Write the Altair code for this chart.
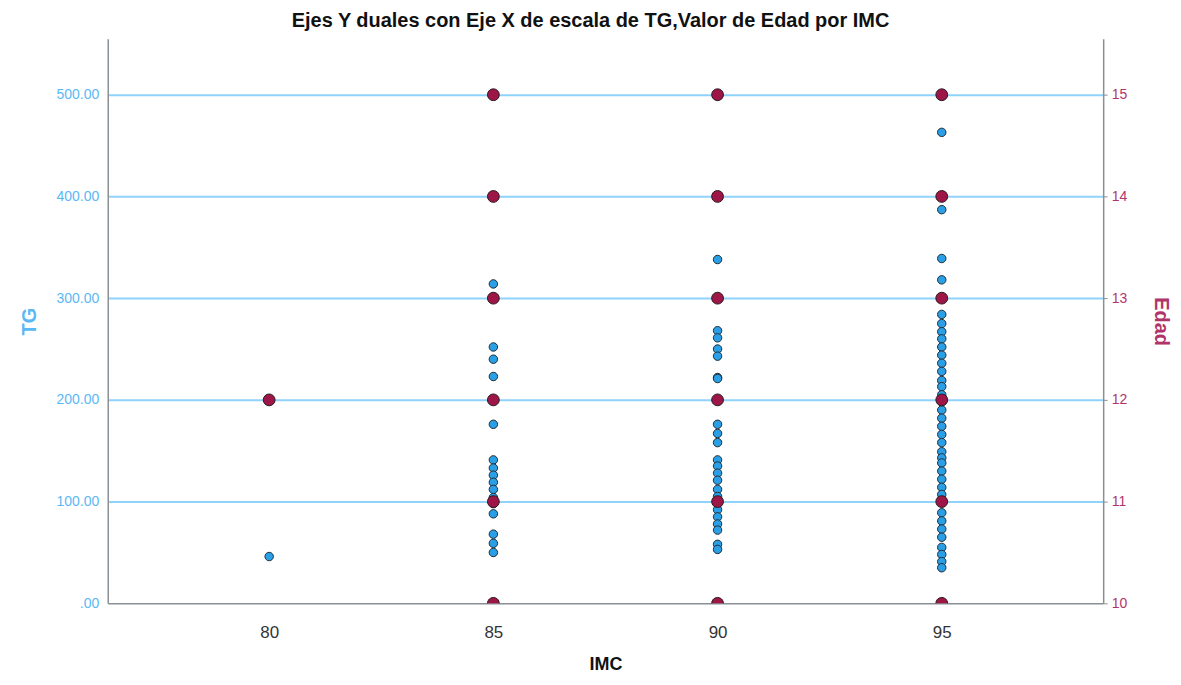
import altair as alt
import pandas as pd

# Blue series: TG values per IMC group
imc_levels = [80, 85, 90, 95]
tg_80 = [46]
tg_85 = [314, 252, 240, 223, 176, 141, 133, 126, 119, 112, 104, 98, 88, 68, 59, 50]
tg_90 = [338, 268, 261, 250, 243, 222, 221, 176, 167, 158, 141, 135, 128, 121, 112,
         105, 98, 92, 85, 78, 72, 58, 53]
tg_95 = [463, 387, 339, 318, 284, 275, 267, 260, 252, 244, 236, 228, 219, 213, 205,
         198, 190, 182, 174, 166, 158, 149, 143, 138, 130, 122, 114, 107, 100, 89,
         81, 73, 65, 55, 48, 41, 35]

# Red series: Edad values per IMC group
edad_80 = [12]
edad_85 = [10, 11, 12, 13, 14, 15]
edad_90 = [10, 11, 12, 13, 14, 15]
edad_95 = [10, 11, 12, 13, 14, 15]

tg_ticks = [0, 100, 200, 300, 400, 500]
edad_ticks = [10, 11, 12, 13, 14, 15]

tg_rows = []
for imc, vals in zip(imc_levels, [tg_80, tg_85, tg_90, tg_95]):
    tg_rows += [{"IMC": imc, "TG": v} for v in vals]
edad_rows = []
for imc, vals in zip(imc_levels, [edad_80, edad_85, edad_90, edad_95]):
    edad_rows += [{"IMC": imc, "Edad": v} for v in vals]

df_tg = pd.DataFrame(tg_rows)
df_edad = pd.DataFrame(edad_rows)

FONT = "Liberation Sans"
BLUE_LBL = "#5ab8f5"
RED_LBL = "#b0346a"

x_enc = alt.X(
    "IMC:Q",
    scale=alt.Scale(domain=[76.4, 98.6], nice=False, zero=False),
    axis=alt.Axis(
        values=imc_levels, title="IMC", grid=False, ticks=False,
        labelFontSize=17, labelColor="#333333", labelFont=FONT, labelPadding=21,
        titleFontSize=18, titleFontWeight="bold", titleColor="#111111", titleFont=FONT,
        titlePadding=15, domainColor="#8a8f94", domainWidth=1.5,
    ),
)

blue = alt.Chart(df_tg).mark_circle(
    size=72, color="#2a9fe6", opacity=1, stroke="#1f2f3a", strokeWidth=1, clip=True
).encode(
    x=x_enc,
    y=alt.Y(
        "TG:Q",
        scale=alt.Scale(domain=[0, 555], nice=False),
        axis=alt.Axis(
            orient="left", values=tg_ticks, title="TG",
            labelExpr="datum.value == 0 ? '.00' : format(datum.value, '.2f')",
            labelColor=BLUE_LBL, labelFontSize=14, labelFont=FONT, labelPadding=9,
            ticks=False, domainColor="#8a8f94", domainWidth=1.5,
            grid=True, gridColor="#8fd3fb", gridWidth=2,
            gridOpacity={"condition": {"test": "datum.value === 0", "value": 0}, "value": 1},
            titleColor=BLUE_LBL, titleFontSize=20, titleFontWeight="bold", titleFont=FONT,
            titleAngle=-90, titleX=-78, titleY=283, titleAlign="center", titleBaseline="middle",
        ),
    ),
)

red = alt.Chart(df_edad).mark_circle(
    size=140, color="#9e1547", opacity=1, stroke="#2a1a1f", strokeWidth=1, clip=True
).encode(
    x=x_enc,
    y=alt.Y(
        "Edad:Q",
        scale=alt.Scale(domain=[10, 15.55], nice=False, zero=False),
        axis=alt.Axis(
            orient="right", values=edad_ticks, title="Edad", format="d",
            labelColor=RED_LBL, labelFontSize=14, labelFont=FONT, labelPadding=4,
            ticks=True, tickSize=4, tickColor="#8a8f94",
            domainColor="#8a8f94", domainWidth=1.5, grid=False,
            titleColor=RED_LBL, titleFontSize=20, titleFontWeight="bold", titleFont=FONT,
            titleAngle=90, titleX=57, titleY=283, titleAlign="center", titleBaseline="middle",
        ),
    ),
)

chart = (
    alt.layer(blue, red)
    .resolve_scale(y="independent")
    .properties(
        width=998,
        height=566,
        autosize=alt.AutoSizeParams(type="none"),
        padding={"left": 100, "top": 30, "right": 70, "bottom": 70},
        title=alt.TitleParams(
            "Ejes Y duales con Eje X de escala de TG,Valor de Edad  por IMC",
            fontSize=20, fontWeight="bold", font=FONT, color="#111111",
            anchor="middle", dx=-15, offset=8,
        ),
        background="white",
    )
    .configure_view(stroke=None)
)

chart.save("out.html", embed_options={"renderer": "svg", "actions": False})
